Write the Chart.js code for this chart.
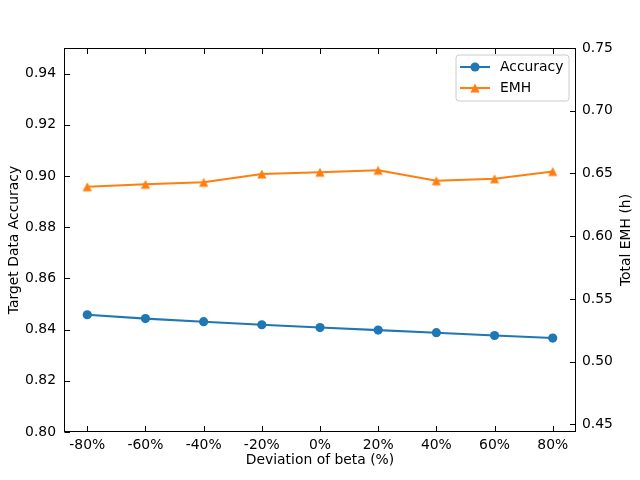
<!DOCTYPE html>
<html>
<head>
<meta charset="utf-8">
<script src="https://cdn.jsdelivr.net/npm/chart.js@4.4.0/dist/chart.umd.min.js"></script>
<style>
html, body { margin: 0; padding: 0; background: #fff; }
#wrap { width: 640px; height: 480px; }
</style>
</head>
<body>
<div id="wrap"><canvas id="chart"></canvas></div>
<script>
// data
const deviations = [-80, -60, -40, -20, 0, 20, 40, 60, 80];
const accuracy = [0.8458, 0.8443, 0.8431, 0.8419, 0.8408, 0.8398, 0.8388, 0.8377, 0.8367];
const emh = [0.6394, 0.6414, 0.6430, 0.6496, 0.6510, 0.6526, 0.6442, 0.6458, 0.6516];
const accTicks = [0.80, 0.82, 0.84, 0.86, 0.88, 0.90, 0.92, 0.94];
const emhTicks = [0.45, 0.50, 0.55, 0.60, 0.65, 0.70, 0.75];

const FONT = 'DejaVu Sans';
const BLUE = '#1f77b4';
const ORANGE = '#ff7f0e';

// matplotlib style '^' marker as an image
function triangleMarker(color, size) {
    const c = document.createElement('canvas');
    c.width = Math.ceil(size) + 2;
    c.height = Math.ceil(size) + 2;
    const g = c.getContext('2d');
    const cx = c.width / 2, cy = c.height / 2, h = size / 2;
    g.fillStyle = color;
    g.beginPath();
    g.moveTo(cx, cy - h);
    g.lineTo(cx - h, cy + h);
    g.lineTo(cx + h, cy + h);
    g.closePath();
    g.fill();
    return c;
}
const tri = triangleMarker(ORANGE, 9.2);

// frame, inward ticks, right title and legend like matplotlib
const framePlugin = {
    id: 'frame',
    afterDraw(chart) {
        const ctx = chart.ctx;
        const a = chart.chartArea;
        const L = Math.round(a.left) + 0.5, R = Math.round(a.right) - 0.5;
        const T = Math.round(a.top) + 0.5, B = Math.round(a.bottom) - 0.5;
        const len = 5.5;
        ctx.save();
        ctx.strokeStyle = '#000';
        ctx.lineWidth = 1;
        ctx.strokeRect(L, T, R - L, B - T);
        ctx.beginPath();
        const x = chart.scales.x;
        x.ticks.forEach(t => {
            const px = Math.round(x.getPixelForValue(t.value)) + 0.5;
            ctx.moveTo(px, B); ctx.lineTo(px, B - len);
            ctx.moveTo(px, T); ctx.lineTo(px, T + len);
        });
        const y = chart.scales.y;
        y.ticks.forEach(t => {
            const py = Math.round(y.getPixelForValue(t.value)) + 0.5;
            ctx.moveTo(L, py); ctx.lineTo(L + len, py);
        });
        const y1 = chart.scales.y1;
        y1.ticks.forEach(t => {
            const py = Math.round(y1.getPixelForValue(t.value)) + 0.5;
            ctx.moveTo(R, py); ctx.lineTo(R - len, py);
        });
        ctx.stroke();

        // right axis title reads bottom to top, as in matplotlib
        ctx.fillStyle = '#000';
        ctx.font = '13.9px "' + FONT + '"';
        ctx.textAlign = 'center';
        ctx.textBaseline = 'middle';
        ctx.translate(626.5, (a.top + a.bottom) / 2);
        ctx.rotate(-Math.PI / 2);
        ctx.fillText('Total EMH (h)', 0, 0);
        ctx.setTransform(1, 0, 0, 1, 0, 0);

        // legend box
        const bx = 456, by = 55, bw = 113, bh = 46, r = 3;
        ctx.beginPath();
        ctx.moveTo(bx + r, by);
        ctx.arcTo(bx + bw, by, bx + bw, by + bh, r);
        ctx.arcTo(bx + bw, by + bh, bx, by + bh, r);
        ctx.arcTo(bx, by + bh, bx, by, r);
        ctx.arcTo(bx, by, bx + bw, by, r);
        ctx.closePath();
        ctx.fillStyle = 'rgba(255,255,255,0.8)';
        ctx.fill();
        ctx.strokeStyle = '#cccccc';
        ctx.lineWidth = 1;
        ctx.stroke();

        const rows = [
            { ds: chart.data.datasets[0], y: 67 },
            { ds: chart.data.datasets[1], y: 88 }
        ];
        rows.forEach(row => {
            ctx.strokeStyle = row.ds.borderColor;
            ctx.lineWidth = 2.08;
            ctx.beginPath();
            ctx.moveTo(460, row.y); ctx.lineTo(490, row.y);
            ctx.stroke();
            if (row.ds.pointStyle === 'circle') {
                ctx.fillStyle = row.ds.borderColor;
                ctx.beginPath();
                ctx.arc(475, row.y, row.ds.pointRadius, 0, Math.PI * 2);
                ctx.fill();
            } else {
                ctx.drawImage(row.ds.pointStyle, 475 - row.ds.pointStyle.width / 2, row.y - row.ds.pointStyle.height / 2);
            }
            ctx.fillStyle = '#000';
            ctx.font = '13.9px "' + FONT + '"';
            ctx.textBaseline = 'middle';
            ctx.textAlign = 'left';
            ctx.fillText(row.ds.label, 500, row.y);
        });
        ctx.restore();
    }
};

new Chart(document.getElementById('chart'), {
    type: 'line',
    data: {
        datasets: [{
            label: 'Accuracy',
            data: deviations.map((d, i) => ({ x: d, y: accuracy[i] })),
            yAxisID: 'y',
            borderColor: BLUE,
            backgroundColor: BLUE,
            borderWidth: 2.08,
            pointStyle: 'circle',
            pointRadius: 4.6,
            pointBorderWidth: 0,
            tension: 0
        }, {
            label: 'EMH',
            data: deviations.map((d, i) => ({ x: d, y: emh[i] })),
            yAxisID: 'y1',
            borderColor: ORANGE,
            backgroundColor: ORANGE,
            borderWidth: 2.08,
            pointStyle: tri,
            pointRadius: 4.6,
            pointBorderWidth: 0,
            tension: 0
        }]
    },
    options: {
        responsive: true,
        maintainAspectRatio: false,
        animation: false,
        devicePixelRatio: 1,
        layout: { padding: { top: 48, left: 0, right: 0, bottom: 0 } },
        plugins: {
            legend: { display: false },
            tooltip: { enabled: false }
        },
        scales: {
            x: {
                type: 'linear',
                min: -88,
                max: 88,
                afterBuildTicks: s => { s.ticks = deviations.map(v => ({ value: v })); },
                afterFit: s => { s.height = 48; },
                grid: { display: false, drawTicks: false },
                border: { display: false },
                ticks: {
                    padding: 5,
                    color: '#000',
                    font: { family: FONT, size: 13.9 },
                    callback: v => v + '%',
                    maxRotation: 0
                },
                title: {
                    display: true,
                    text: 'Deviation of beta (%)',
                    color: '#000',
                    font: { family: FONT, size: 13.9 },
                    padding: { top: 0, bottom: 11 }
                }
            },
            y: {
                position: 'left',
                min: 0.80,
                max: 0.95,
                afterBuildTicks: s => { s.ticks = accTicks.map(v => ({ value: v })); },
                afterFit: s => { s.width = 64; },
                grid: { display: false, drawTicks: false },
                border: { display: false },
                ticks: {
                    padding: 8,
                    color: '#000',
                    font: { family: FONT, size: 13.9 },
                    callback: v => v.toFixed(2)
                },
                title: {
                    display: true,
                    text: 'Target Data Accuracy',
                    color: '#000',
                    font: { family: FONT, size: 13.9 },
                    padding: { top: 5.6, bottom: 0 }
                }
            },
            y1: {
                position: 'right',
                min: 0.444,
                max: 0.75,
                afterBuildTicks: s => { s.ticks = emhTicks.map(v => ({ value: v })); },
                afterFit: s => { s.width = 64; },
                grid: { display: false, drawTicks: false },
                border: { display: false },
                ticks: {
                    padding: 6,
                    color: '#000',
                    font: { family: FONT, size: 13.9 },
                    callback: v => v.toFixed(2)
                },
                title: { display: false }
            }
        }
    },
    plugins: [framePlugin]
});
</script>
</body>
</html>
